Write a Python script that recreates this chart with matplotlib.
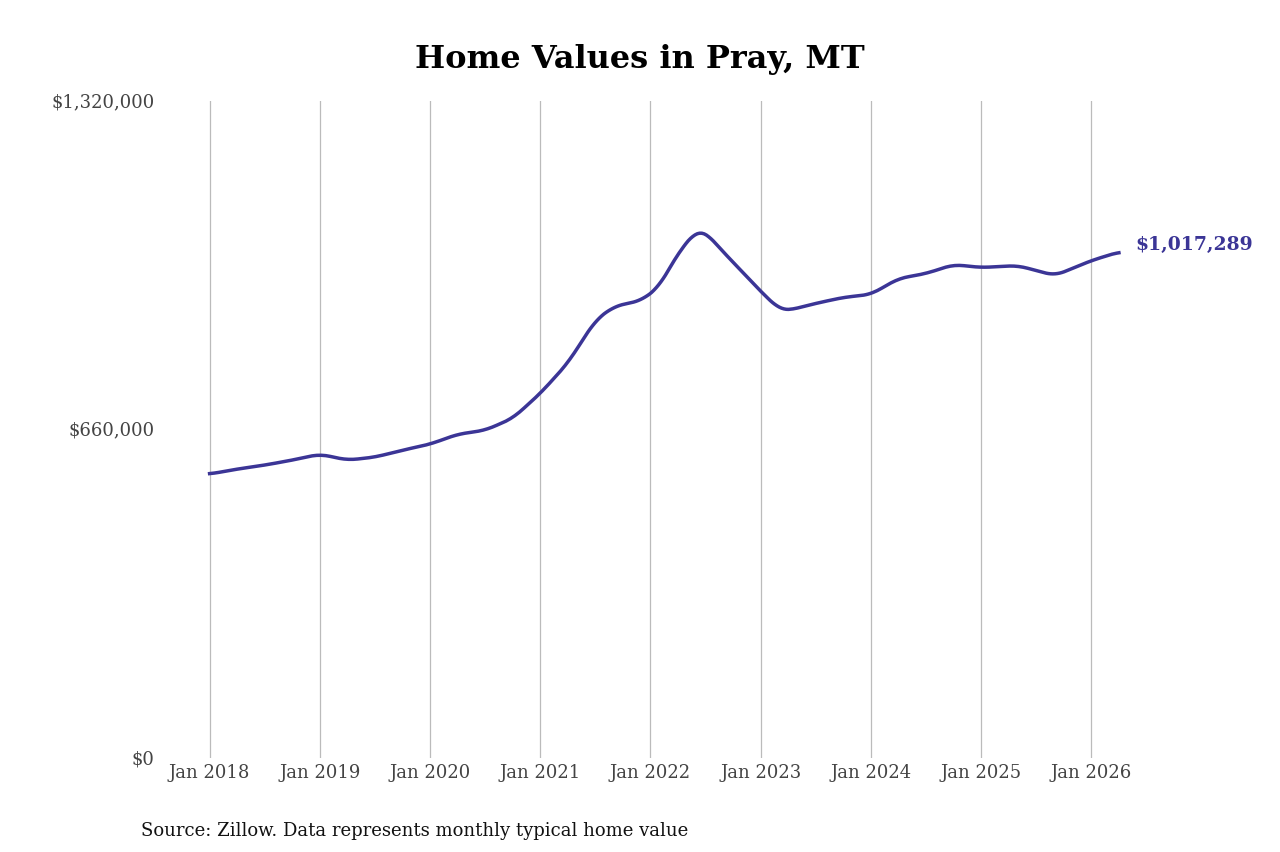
import matplotlib
matplotlib.use("Agg")
import matplotlib.pyplot as plt
import numpy as np

# fractional year, typical home value
years = [2018.0, 2018.25, 2018.5, 2018.75, 2019.0, 2019.25, 2019.5, 2019.75,
         2020.0, 2020.25, 2020.5, 2020.75, 2021.0, 2021.25, 2021.5, 2021.67,
         2021.92, 2022.08, 2022.25, 2022.42, 2022.5, 2022.67, 2022.83, 2023.0,
         2023.17, 2023.25, 2023.5, 2023.75, 2024.0, 2024.25, 2024.5, 2024.75,
         2025.0, 2025.33, 2025.67, 2026.0, 2026.25]
values = [571000, 581000, 589000, 599000, 611000, 599000, 605000, 619000,
          631000, 651000, 659000, 683000, 733000, 794000, 880000, 908000,
          920000, 948000, 1015000, 1061000, 1057000, 1015000, 978000, 938000,
          902000, 900000, 914000, 926000, 932000, 964000, 974000, 992000,
          986000, 990000, 970000, 1000000, 1017289]
tick_years = list(range(2018, 2027))
tick_labels = [f"Jan {y}" for y in tick_years]

plt.rcParams['font.family'] = ['DejaVu Serif']
fig, ax = plt.subplots(figsize=(12.8, 8.53), dpi=100)
fig.subplots_adjust(left=0.125, right=0.9, top=0.88, bottom=0.11)

# smooth the line a bit
xs = np.linspace(years[0], years[-1], 400)
ys = np.interp(xs, years, values)
k = np.ones(9) / 9
ys_s = np.convolve(np.pad(ys, 4, mode='edge'), k, mode='valid')
ax.plot(xs, ys_s, color='#3b3596', lw=2.5)

ax.set_ylim(0, 1320000)
ax.set_xlim(2017.55, 2026.55)
ax.set_yticks([0, 660000, 1320000])
ax.set_yticklabels(['$0', '$660,000', '$1,320,000'])
ax.set_xticks(tick_years)
ax.set_xticklabels(tick_labels)
ax.grid(axis='x', color='#bbbbbb', lw=0.9)
for s in ax.spines.values():
    s.set_visible(False)
ax.tick_params(length=0, labelsize=13, colors='#444444')
ax.tick_params(axis='y', pad=4)
for lbl in ax.get_yticklabels():
    lbl.set_verticalalignment('center')

ax.annotate('$1,017,289', (years[-1], values[-1]), xytext=(12, 6),
            textcoords='offset points', va='center', ha='left',
            fontsize=13.5, fontweight='bold', color='#3b3596')

fig.suptitle('Home Values in Pray, MT', fontsize=23, fontweight='bold', y=0.948)
fig.text(0.11, 0.02, 'Source: Zillow. Data represents monthly typical home value',
         fontsize=13, color='#111111')

fig.savefig('out.png', dpi=100)
